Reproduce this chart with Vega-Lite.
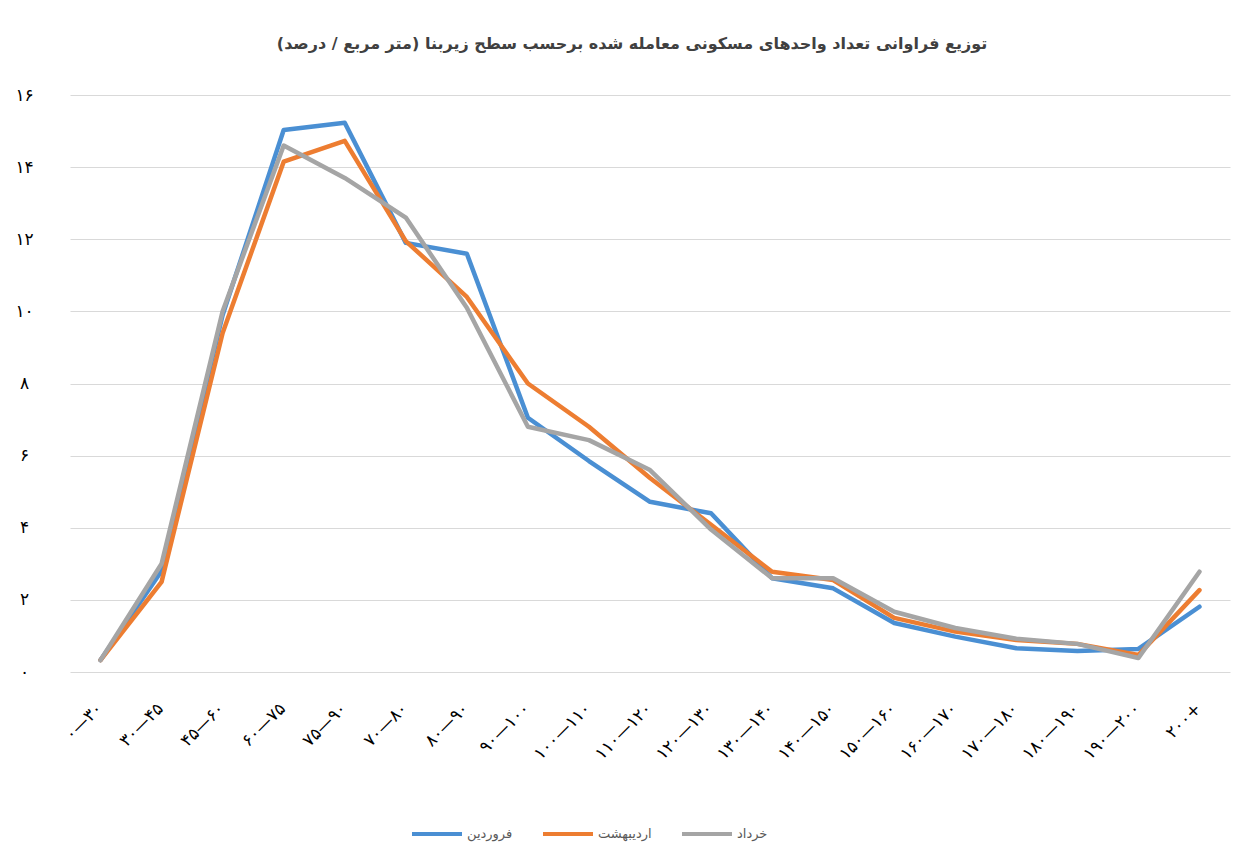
{
  "$schema": "https://vega.github.io/schema/vega-lite/v6.json",
  "width": 1160,
  "height": 577,
  "autosize": {"type": "none"},
  "padding": {"left": 70, "top": 95, "right": 17, "bottom": 179},
  "background": "white",
  "title": {
    "text": "توزیع فراوانی تعداد واحدهای مسکونی معامله شده برحسب سطح زیربنا (متر مربع / درصد)",
    "font": "DejaVu Sans",
    "fontSize": 16,
    "fontWeight": "bold",
    "color": "#404040",
    "anchor": "middle",
    "dx": -18,
    "offset": 34
  },
  "config": {"view": {"stroke": null}},
  "data": {
    "values": [
      {"r": "۰—۳۰", "m": "فروردین", "v": 0.33},
      {"r": "۳۰—۴۵", "m": "فروردین", "v": 2.8},
      {"r": "۴۵—۶۰", "m": "فروردین", "v": 9.9},
      {"r": "۶۰—۷۵", "m": "فروردین", "v": 15.03},
      {"r": "۷۵—۹۰", "m": "فروردین", "v": 15.23},
      {"r": "۷۰—۸۰", "m": "فروردین", "v": 11.9},
      {"r": "۸۰—۹۰", "m": "فروردین", "v": 11.6},
      {"r": "۹۰—۱۰۰", "m": "فروردین", "v": 7.05},
      {"r": "۱۰۰—۱۱۰", "m": "فروردین", "v": 5.85},
      {"r": "۱۱۰—۱۲۰", "m": "فروردین", "v": 4.72},
      {"r": "۱۲۰—۱۳۰", "m": "فروردین", "v": 4.4},
      {"r": "۱۳۰—۱۴۰", "m": "فروردین", "v": 2.6},
      {"r": "۱۴۰—۱۵۰", "m": "فروردین", "v": 2.32},
      {"r": "۱۵۰—۱۶۰", "m": "فروردین", "v": 1.36},
      {"r": "۱۶۰—۱۷۰", "m": "فروردین", "v": 0.98},
      {"r": "۱۷۰—۱۸۰", "m": "فروردین", "v": 0.66},
      {"r": "۱۸۰—۱۹۰", "m": "فروردین", "v": 0.58},
      {"r": "۱۹۰—۲۰۰", "m": "فروردین", "v": 0.64},
      {"r": "۲۰۰+", "m": "فروردین", "v": 1.81},
      {"r": "۰—۳۰", "m": "اردیبهشت", "v": 0.33},
      {"r": "۳۰—۴۵", "m": "اردیبهشت", "v": 2.5},
      {"r": "۴۵—۶۰", "m": "اردیبهشت", "v": 9.4},
      {"r": "۶۰—۷۵", "m": "اردیبهشت", "v": 14.15},
      {"r": "۷۵—۹۰", "m": "اردیبهشت", "v": 14.73},
      {"r": "۷۰—۸۰", "m": "اردیبهشت", "v": 11.95},
      {"r": "۸۰—۹۰", "m": "اردیبهشت", "v": 10.4},
      {"r": "۹۰—۱۰۰", "m": "اردیبهشت", "v": 8.0},
      {"r": "۱۰۰—۱۱۰", "m": "اردیبهشت", "v": 6.8},
      {"r": "۱۱۰—۱۲۰", "m": "اردیبهشت", "v": 5.38},
      {"r": "۱۲۰—۱۳۰", "m": "اردیبهشت", "v": 4.08},
      {"r": "۱۳۰—۱۴۰", "m": "اردیبهشت", "v": 2.78},
      {"r": "۱۴۰—۱۵۰", "m": "اردیبهشت", "v": 2.55},
      {"r": "۱۵۰—۱۶۰", "m": "اردیبهشت", "v": 1.5},
      {"r": "۱۶۰—۱۷۰", "m": "اردیبهشت", "v": 1.12},
      {"r": "۱۷۰—۱۸۰", "m": "اردیبهشت", "v": 0.89},
      {"r": "۱۸۰—۱۹۰", "m": "اردیبهشت", "v": 0.78},
      {"r": "۱۹۰—۲۰۰", "m": "اردیبهشت", "v": 0.47},
      {"r": "۲۰۰+", "m": "اردیبهشت", "v": 2.27},
      {"r": "۰—۳۰", "m": "خرداد", "v": 0.33},
      {"r": "۳۰—۴۵", "m": "خرداد", "v": 3.0},
      {"r": "۴۵—۶۰", "m": "خرداد", "v": 10.0},
      {"r": "۶۰—۷۵", "m": "خرداد", "v": 14.6},
      {"r": "۷۵—۹۰", "m": "خرداد", "v": 13.7},
      {"r": "۷۰—۸۰", "m": "خرداد", "v": 12.6},
      {"r": "۸۰—۹۰", "m": "خرداد", "v": 10.1},
      {"r": "۹۰—۱۰۰", "m": "خرداد", "v": 6.8},
      {"r": "۱۰۰—۱۱۰", "m": "خرداد", "v": 6.43},
      {"r": "۱۱۰—۱۲۰", "m": "خرداد", "v": 5.6},
      {"r": "۱۲۰—۱۳۰", "m": "خرداد", "v": 3.95},
      {"r": "۱۳۰—۱۴۰", "m": "خرداد", "v": 2.6},
      {"r": "۱۴۰—۱۵۰", "m": "خرداد", "v": 2.6},
      {"r": "۱۵۰—۱۶۰", "m": "خرداد", "v": 1.67},
      {"r": "۱۶۰—۱۷۰", "m": "خرداد", "v": 1.22},
      {"r": "۱۷۰—۱۸۰", "m": "خرداد", "v": 0.92},
      {"r": "۱۸۰—۱۹۰", "m": "خرداد", "v": 0.78},
      {"r": "۱۹۰—۲۰۰", "m": "خرداد", "v": 0.39},
      {"r": "۲۰۰+", "m": "خرداد", "v": 2.78}
    ]
  },
  "mark": {"type": "line", "strokeWidth": 4.5, "strokeJoin": "round", "strokeCap": "round"},
  "encoding": {
    "x": {
      "field": "r",
      "type": "nominal",
      "sort": null,
      "scale": {"padding": 0.5},
      "axis": {
        "title": null,
        "labelAngle": -45,
        "labelFont": "DejaVu Sans",
        "labelFontSize": 17,
        "labelColor": "#000000",
        "labelPadding": 28,
        "labelOffset": -7,
        "ticks": false,
        "domain": false,
        "grid": false
      }
    },
    "y": {
      "field": "v",
      "type": "quantitative",
      "scale": {"domain": [0, 16], "nice": false, "zero": true},
      "axis": {
        "title": null,
        "values": [0, 2, 4, 6, 8, 10, 12, 14, 16],
        "labelExpr": "['۰','۲','۴','۶','۸','۱۰','۱۲','۱۴','۱۶'][datum.value / 2]",
        "labelFont": "DejaVu Sans",
        "labelFontSize": 17,
        "labelColor": "#000000",
        "labelAlign": "center",
        "labelPadding": 46,
        "ticks": false,
        "domain": false,
        "grid": true,
        "gridColor": "#d9d9d9",
        "gridWidth": 1
      }
    },
    "color": {
      "field": "m",
      "type": "nominal",
      "scale": {
        "domain": ["فروردین", "اردیبهشت", "خرداد"],
        "range": ["#4a8fd3", "#ed7d31", "#a5a5a5"]
      },
      "legend": {
        "title": null,
        "orient": "none",
        "direction": "horizontal",
        "legendX": 340,
        "legendY": 712,
        "symbolType": "stroke",
        "symbolSize": 2500,
        "symbolStrokeWidth": 4,
        "labelFont": "DejaVu Sans",
        "labelFontSize": 13,
        "labelColor": "#595959",
        "columnPadding": 22,
        "labelOffset": 3
      }
    }
  }
}
